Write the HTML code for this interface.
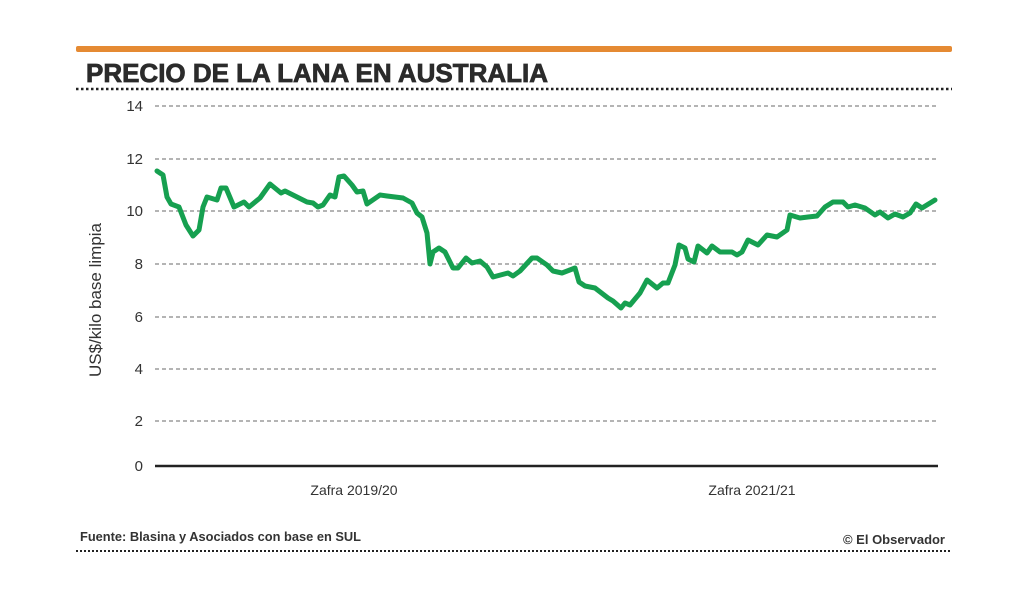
<!DOCTYPE html>
<html><head><meta charset="utf-8"><style>
html,body{margin:0;padding:0;background:#fff;}
svg{display:block;}
</style></head><body>
<svg width="1024" height="597" viewBox="0 0 1024 597" xmlns="http://www.w3.org/2000/svg" font-family="Liberation Sans, sans-serif">
<rect width="1024" height="597" fill="#fff"/>
<rect x="76" y="46" width="876" height="6" rx="2" fill="#e58a33"/>
<text x="86" y="82" font-size="26" font-weight="bold" fill="#2b2b2b" stroke="#2b2b2b" stroke-width="0.8" textLength="462" lengthAdjust="spacingAndGlyphs">PRECIO DE LA LANA EN AUSTRALIA</text>
<line x1="76" y1="89" x2="952" y2="89" stroke="#222" stroke-width="2.5" stroke-dasharray="2.5,2.5"/>
<g stroke="#888" stroke-width="1.3" stroke-dasharray="4,3">
<line x1="155" y1="106" x2="938" y2="106"/>
<line x1="155" y1="159" x2="938" y2="159"/>
<line x1="155" y1="211" x2="938" y2="211"/>
<line x1="155" y1="264" x2="938" y2="264"/>
<line x1="155" y1="317" x2="938" y2="317"/>
<line x1="155" y1="369" x2="938" y2="369"/>
<line x1="155" y1="421" x2="938" y2="421"/>
</g>
<line x1="155" y1="466" x2="938" y2="466" stroke="#222" stroke-width="2.5"/>
<g font-size="15" fill="#333" text-anchor="end">
<text x="143" y="111">14</text>
<text x="143" y="164">12</text>
<text x="143" y="216">10</text>
<text x="143" y="269">8</text>
<text x="143" y="322">6</text>
<text x="143" y="374">4</text>
<text x="143" y="426">2</text>
<text x="143" y="471">0</text>
</g>
<text transform="translate(101,300) rotate(-90)" font-size="17" fill="#333" text-anchor="middle">US$/kilo base limpia</text>
<g font-size="14" fill="#333" text-anchor="middle">
<text x="354" y="495">Zafra 2019/20</text>
<text x="752" y="495">Zafra 2021/21</text>
</g>
<text x="80" y="541" font-size="12.5" font-weight="bold" fill="#333" textLength="281" lengthAdjust="spacingAndGlyphs">Fuente: Blasina y Asociados con base en SUL</text>
<text x="843" y="544" font-size="12.5" font-weight="bold" fill="#333" textLength="102" lengthAdjust="spacingAndGlyphs">© El Observador</text>
<line x1="76" y1="551" x2="952" y2="551" stroke="#222" stroke-width="2" stroke-dasharray="2,2"/>
<polyline fill="none" stroke="#16a050" stroke-width="5" stroke-linejoin="round" stroke-linecap="round" points="157,171 163,175 167,197 171,204 179,207 186,225 193,236 199,230 203,207 207,197 217,200 221,188 226,188 234,207 244,202 249,207 260,198 270,184 281,193 285,191 297,197 307,202 313,203 318,207 323,205 330,195 335,197 339,177 344,176 352,185 357,192 363,191 367,204 380,195 387,196 403,198 412,203 417,213 422,217 427,233 430,264 433,252 439,248 445,252 453,268 458,268 466,258 472,263 480,261 487,267 493,277 508,273 513,276 520,271 532,258 537,258 547,265 553,271 562,273 575,268 579,282 585,286 595,288 608,298 613,301 621,308 625,303 630,305 640,293 647,280 657,288 663,283 668,283 675,265 679,245 685,248 688,259 694,262 698,246 707,253 712,246 720,252 732,252 737,255 742,252 748,240 758,245 767,235 777,237 787,230 790,215 800,218 808,217 817,216 825,207 833,202 843,202 848,207 855,205 865,208 875,215 880,212 888,218 895,214 903,217 910,213 916,204 922,208 935,200"/>
</svg>
</body></html>
